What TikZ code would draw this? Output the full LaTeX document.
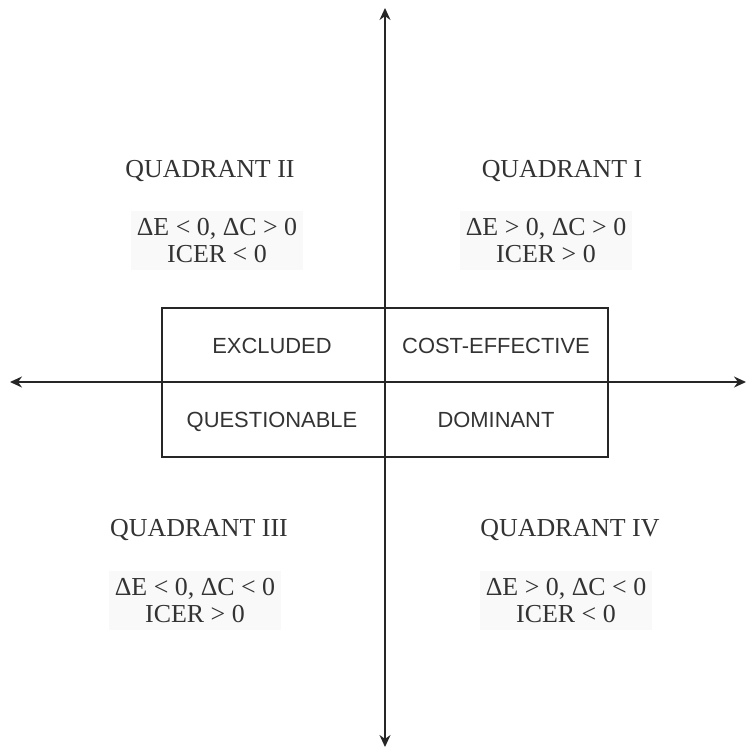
\documentclass[tikz,border=0pt]{standalone}
\usepackage{fontspec}
\setmainfont{Liberation Serif}
\newfontfamily\labelsans{Liberation Sans}
\usetikzlibrary{arrows.meta}
\begin{document}
\begin{tikzpicture}[x=1bp,y=-1bp,
  axis/.style={line width=1.5bp,draw=black!85,-{Stealth[length=12bp,width=11bp]}},
  quadtitle/.style={font=\fontsize{26}{29}\selectfont,text=black!80,inner sep=0pt,anchor=base},
  condbox/.style={font=\fontsize{26}{27.5}\selectfont,text=black!80,fill=black!2.5,align=center,inner xsep=6bp,inner ysep=7bp,anchor=base},
  celltext/.style={font=\labelsans\fontsize{22}{26}\selectfont,text=black!80,inner sep=0pt,anchor=base},
  frame/.style={draw=black!85,line width=1.3bp,minimum width=446bp,minimum height=149bp,inner sep=0pt}
]
\useasboundingbox (0,0) rectangle (747,749);
% frame
\node[frame] (frame) at (385,382.5) {};
% axes
\coordinate (left) at (10,382);
\coordinate (right) at (746,382);
\coordinate (top) at (385,8);
\coordinate (bottom) at (385,747);
\coordinate (origin) at (385,382);
\draw[axis] (origin) -- (left);
\draw[axis] (origin) -- (right);
\draw[axis] (origin) -- (top);
\draw[axis] (origin) -- (bottom);
% cell labels
\node[celltext] (excl) at (272,353) {EXCLUDED};
\node[celltext] (cost) at (496,353) {COST-EFFECTIVE};
\node[celltext] (ques) at (272,427) {QUESTIONABLE};
\node[celltext] (domi) at (496,427) {DOMINANT};
% quadrant titles
\node[quadtitle] (q2) at (210,177) {QUADRANT II};
\node[quadtitle] (q1) at (562,177) {QUADRANT I};
\node[quadtitle] (q3) at (199,536) {QUADRANT III};
\node[quadtitle] (q4) at (570,536) {QUADRANT IV};
% condition boxes
\node[condbox] (c2) at (217,262.5) {ΔE < 0, ΔC > 0\\ICER < 0};
\node[condbox] (c1) at (546,262.5) {ΔE > 0, ΔC > 0\\ICER > 0};
\node[condbox] (c3) at (195,622.5) {ΔE < 0, ΔC < 0\\ICER > 0};
\node[condbox] (c4) at (566,622.5) {ΔE > 0, ΔC < 0\\ICER < 0};
\end{tikzpicture}
\end{document}
